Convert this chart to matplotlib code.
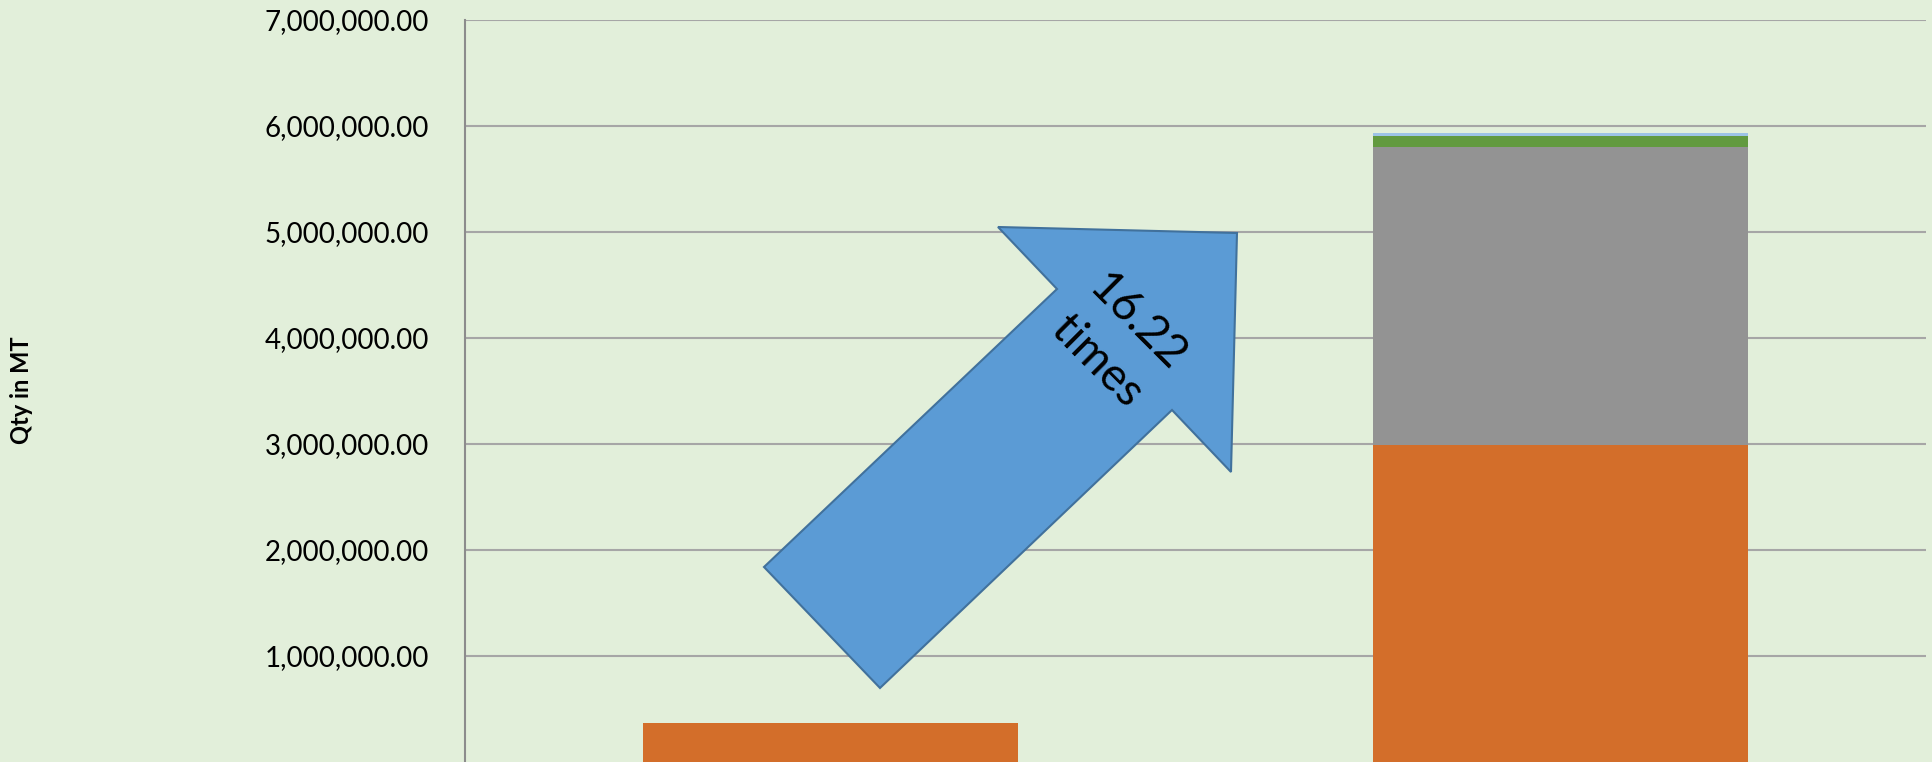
import matplotlib
matplotlib.use("Agg")
import matplotlib.pyplot as plt
from matplotlib.patches import Polygon
from matplotlib.ticker import FuncFormatter

W, H, DPI = 1933, 762, 100

categories = ["Before", "After"]
series_names = ["Series A", "Series B", "Series C", "Series D"]
series_a = [366000, 2995000]
series_b = [0, 2805000]
series_c = [0, 105000]
series_d = [0, 28000]
series_colors = ["#D36E2A", "#939393", "#629A3F", "#9DC3E6"]
y_ticks = [1e6, 2e6, 3e6, 4e6, 5e6, 6e6, 7e6]
ratio_text = "16.22\ntimes"

bg = "#E2EFDA"
plt.rcParams["font.family"] = ["Lato", "DejaVu Sans"]

fig = plt.figure(figsize=(W / DPI, H / DPI), dpi=DPI, facecolor=bg)
ax = fig.add_axes([465 / W, 0, (1926 - 465) / W, (H - 20) / H])
ax.set_facecolor(bg)

x = list(range(len(categories)))
bottom = [0] * len(categories)
for vals, color, name in zip([series_a, series_b, series_c, series_d], series_colors, series_names):
    ax.bar(x, vals, bottom=bottom, width=0.513, color=color, label=name, zorder=3)
    bottom = [b + v for b, v in zip(bottom, vals)]

ax.set_xlim(-0.5, 1.5)
ax.set_ylim(0, 7e6)
ax.set_yticks(y_ticks)
ax.yaxis.set_major_formatter(FuncFormatter(lambda v, p: f"{v:,.2f}"))
# category labels sit below the visible area in the reference crop
ax.set_xticks(x)
ax.set_xticklabels([])
ax.tick_params(axis="y", length=0, pad=26, labelsize=20, labelcolor="black")
ax.tick_params(axis="x", length=0)
ax.grid(axis="y", color="#A6A6A6", linewidth=1.5, zorder=0)
for s in ["top", "right", "bottom"]:
    ax.spines[s].set_visible(False)
ax.spines["left"].set_color("#8C8C8C")
ax.spines["left"].set_linewidth(1.5)

fig.text(22 / W, 1 - 390 / H, "Qty in MT", rotation=90, ha="center", va="center",
         fontsize=17, fontweight="bold")

# block arrow drawn in figure pixels
pts = [(764, 567), (1057, 289), (998, 227), (1237, 233), (1231, 472), (1172, 410), (880, 688)]
arrow = Polygon([(px / W, 1 - py / H) for px, py in pts], closed=True,
                facecolor="#5B9BD5", edgecolor="#41719C", linewidth=1.5,
                transform=fig.transFigure, zorder=5)
fig.patches.append(arrow)
fig.text(1117 / W, 1 - 342 / H, ratio_text, rotation=-45, ha="center", va="center",
         multialignment="center", fontsize=33, linespacing=1.4, zorder=6)

fig.savefig("out.png", dpi=DPI, facecolor=bg)
